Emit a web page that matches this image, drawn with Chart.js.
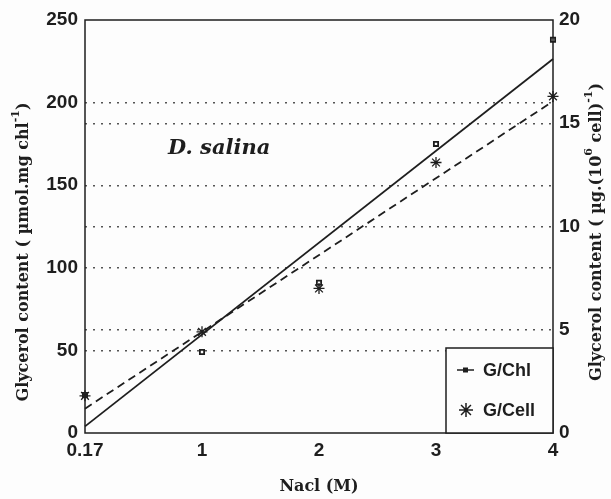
<!DOCTYPE html>
<html>
<head>
<meta charset="utf-8">
<script src="https://cdn.jsdelivr.net/npm/chart.js@4.4.1/dist/chart.umd.min.js"></script>
<style>
  html, body { margin: 0; padding: 0; background: #fdfdfd; }
  canvas { display: block; }
</style>
</head>
<body>
<canvas id="chart" width="611" height="499"></canvas>
<script>
    'use strict';

    // x categories (NaCl, M) are evenly spaced on the original axis
    var nacl = ['0.17', '1', '2', '3', '4'];
    // G/Chl, left axis (umol.mg chl-1)
    var gChl = [23, 49, 91, 175, 238];
    // G/Cell, right axis (ug.(10^6 cell)-1)
    var gCell = [1.8, 4.9, 7.0, 13.1, 16.3];

    var ink = '#1e1e1e';
    var serif = '"DejaVu Serif"';

    function points(values) {
        return values.map(function (v, i) { return { x: i, y: v }; });
    }

    // least squares fit over the category index, the way the trend lines were drawn
    function trend(values) {
        var n = values.length, sx = 0, sy = 0, sxy = 0, sxx = 0;
        values.forEach(function (v, i) { sx += i; sy += v; sxy += i * v; sxx += i * i; });
        var slope = (n * sxy - sx * sy) / (n * sxx - sx * sx);
        var icpt = (sy - slope * sx) / n;
        return [{ x: 0, y: icpt }, { x: n - 1, y: icpt + slope * (n - 1) }];
    }

    // draws a rotated axis title with superscript pieces
    function drawRotated(ctx, cx, cy, parts) {
        var base = 'bold 16px ' + serif;
        var sup = 'bold 11px ' + serif;
        ctx.save();
        ctx.translate(cx, cy);
        ctx.rotate(-Math.PI / 2);
        var total = 0;
        parts.forEach(function (p) { ctx.font = p.sup ? sup : base; total += ctx.measureText(p.t).width; });
        var x = -total / 2;
        ctx.fillStyle = ink;
        ctx.textBaseline = 'middle';
        parts.forEach(function (p) {
            ctx.font = p.sup ? sup : base;
            ctx.fillText(p.t, x, p.sup ? -8 : 0);
            x += ctx.measureText(p.t).width;
        });
        ctx.restore();
    }

    var framePlugin = {
        id: 'frame',
        afterDraw: function (chart) {
            var ctx = chart.ctx, a = chart.chartArea;
            ctx.save();
            ctx.strokeStyle = ink;
            ctx.lineWidth = 1.5;
            ctx.strokeRect(a.left, a.top, a.right - a.left, a.bottom - a.top);

            // legend box in lower right corner
            var lx = 446, ly = 348;
            ctx.fillStyle = '#fdfdfd';
            ctx.fillRect(lx, ly, a.right - lx, a.bottom - ly);
            ctx.strokeRect(lx, ly, a.right - lx, a.bottom - ly);

            ctx.lineWidth = 1.5;
            ctx.beginPath();
            ctx.moveTo(457, 370); ctx.lineTo(474, 370);
            ctx.stroke();
            ctx.fillStyle = ink;
            ctx.fillRect(463, 367.5, 5, 5);
            Chart.helpers.drawPoint(ctx, { pointStyle: 'star', radius: 7, borderWidth: 1.3 }, 466, 410);

            ctx.font = 'bold 18px "Liberation Sans"';
            ctx.textBaseline = 'middle';
            ctx.fillText('G/Chl', 483, 371);
            ctx.fillText('G/Cell', 483, 411);

            ctx.font = 'italic bold 21px ' + serif;
            ctx.fillText('D. salina', 168, 149);

            drawRotated(ctx, 24, 252, [
                { t: 'Glycerol content ( \u00b5mol.mg chl' }, { t: '-1', sup: true }, { t: ')' }
            ]);
            drawRotated(ctx, 597, 232, [
                { t: 'Glycerol content ( \u00b5g.(10' }, { t: '6', sup: true },
                { t: ' cell)' }, { t: '-1', sup: true }, { t: ')' }
            ]);
            ctx.restore();
        }
    };

    function dottedGrid(max) {
        return {
            drawTicks: false,
            lineWidth: 1.4,
            color: function (c) {
                return (c.tick.value === 0 || c.tick.value === max) ? 'rgba(0,0,0,0)' : '#555';
            }
        };
    }

    var tickFont = { family: 'Liberation Sans', size: 19, weight: 'bold' };

    new Chart(document.getElementById('chart').getContext('2d'), {
        type: 'line',
        data: {
            datasets: [
                {
                    label: 'G/Chl fit', data: trend(gChl), yAxisID: 'y',
                    borderColor: ink, borderWidth: 1.8, pointRadius: 0, fill: false
                },
                {
                    label: 'G/Cell fit', data: trend(gCell), yAxisID: 'y2',
                    borderColor: ink, borderWidth: 1.8, borderDash: [8, 5], pointRadius: 0, fill: false
                },
                {
                    label: 'G/Chl', data: points(gChl), yAxisID: 'y', showLine: false,
                    pointStyle: 'rect', pointRadius: 3, borderColor: ink, borderWidth: 1.8,
                    backgroundColor: 'rgba(0,0,0,0)'
                },
                {
                    label: 'G/Cell', data: points(gCell), yAxisID: 'y2', showLine: false,
                    pointStyle: 'star', pointRadius: 5.5, borderColor: ink, borderWidth: 1.3
                }
            ]
        },
        options: {
            responsive: false,
            animation: false,
            devicePixelRatio: 1,
            clip: false,
            layout: { padding: { top: 20, left: 0, right: 0, bottom: 0 } },
            plugins: { legend: { display: false }, tooltip: { enabled: false } },
            scales: {
                x: {
                    type: 'linear', min: 0, max: nacl.length - 1,
                    grid: { display: false, drawTicks: false },
                    border: { display: false },
                    ticks: {
                        stepSize: 1, padding: 6, color: ink, font: tickFont, maxRotation: 0,
                        callback: function (v) { return nacl[v]; }
                    },
                    title: {
                        display: true, text: 'Nacl (M)', color: ink,
                        font: { family: 'DejaVu Serif', size: 16, weight: 'bold' },
                        padding: { top: 0, bottom: 3 }
                    },
                    afterFit: function (s) { s.height = 66; }
                },
                y: {
                    position: 'left', min: 0, max: 250,
                    grid: dottedGrid(250),
                    border: { display: false, dash: [2, 6] },
                    ticks: { stepSize: 50, padding: 7, color: ink, font: tickFont },
                    afterFit: function (s) { s.width = 85; }
                },
                y2: {
                    position: 'right', min: 0, max: 20,
                    grid: dottedGrid(20),
                    border: { display: false, dash: [2, 6] },
                    ticks: { stepSize: 5, padding: 6, color: ink, font: tickFont },
                    afterFit: function (s) { s.width = 58; }
                }
            }
        },
        plugins: [framePlugin]
    });
</script>
</body>
</html>
